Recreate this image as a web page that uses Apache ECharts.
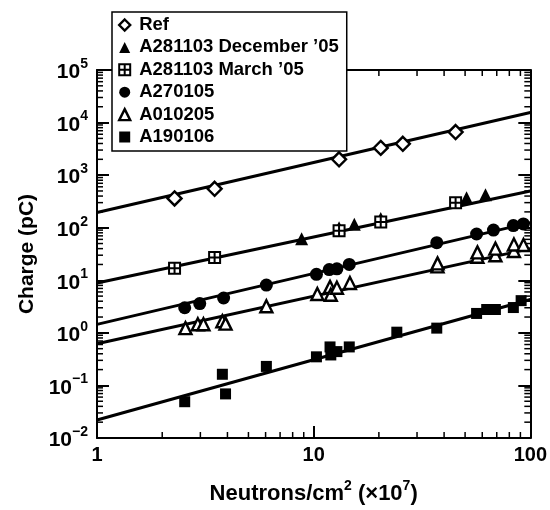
<!DOCTYPE html>
<html>
<head>
<meta charset="utf-8">
<script src="https://cdn.jsdelivr.net/npm/echarts@6/dist/echarts.min.js"></script>
<style>
  html, body { margin: 0; padding: 0; background: #fff; }
  #chart { width: 550px; height: 510px; }
</style>
</head>
<body>
<div id="chart"></div>
<script>
// fluence (x10^7 n/cm2) vs charge (pC)
const fitX = [1, 100];

const refPts = [[2.28, 360], [3.49, 550], [13.1, 2000], [20.4, 3300], [25.8, 3950], [45.2, 6600]];
const refFit = [195, 15500];

const decPts = [[8.8, 62], [13.1, 100], [15.4, 117], [20.4, 150], [50.8, 372], [62.1, 424]];
const marPts = [[2.28, 17], [3.49, 27], [13.1, 88], [20.4, 128], [45.2, 300]];
const a281Fit = [8.9, 500];

const a270Pts = [[2.54, 3.0], [2.98, 3.6], [3.84, 4.6], [6.05, 8.1], [10.3, 13], [11.8, 16], [12.8, 16.5],
  [14.6, 20], [37.0, 52], [56.5, 76], [67.6, 90], [83.5, 110], [92.9, 118]];
const a270Fit = [1.45, 125];

const a010Pts = [[2.56, 1.23], [2.92, 1.46], [3.10, 1.46], [3.79, 1.66], [3.92, 1.5], [6.05, 3.2], [10.4, 5.5],
  [11.9, 7.5], [12.0, 5.3], [12.8, 7.2], [14.7, 8.9], [37.3, 18.4], [37.3, 21], [57, 28], [57, 34],
  [69, 30], [69, 40], [84, 36], [84, 48], [93, 47]];
const a010Fit = [0.62, 40];

const a190Pts = [[2.54, 0.049], [3.79, 0.163], [3.92, 0.069], [6.05, 0.23], [10.3, 0.35], [11.9, 0.54],
  [12.0, 0.38], [12.8, 0.44], [14.6, 0.54], [24.2, 1.03], [37.0, 1.23], [56.5, 2.34], [62.9, 2.78],
  [69, 2.78], [83.5, 3.03], [90.7, 4.1]];
const a190Fit = [0.022, 4.3];

const xMin = 1, xMax = 100;
const yMin = 0.01, yMax = 1e5;

const font = 'Liberation Sans';

// minor ticks (2..9 in each decade)
const minorX = [];
for (let d = xMin; d < xMax; d *= 10) {
  for (let k = 2; k <= 9; k++) minorX.push([k * d, yMin]);
}
const minorY = [];
for (let d = yMin; d < yMax * 0.99; d *= 10) {
  for (let k = 2; k <= 9; k++) minorY.push([xMin, k * d]);
}

const chart = echarts.init(document.getElementById('chart'));

const tickLine = (x1, y1, x2, y2) => ({
  type: 'line',
  shape: { x1: x1, y1: y1, x2: x2, y2: y2 },
  style: { stroke: '#000', lineWidth: 1.5 }
});

const fitSeries = (vals) => ({
  type: 'line',
  data: fitX.map((x, i) => [x, vals[i]]),
  showSymbol: false,
  symbol: 'none',
  silent: true,
  z: 2,
  lineStyle: { color: '#000', width: 3 }
});

const openStyle = { color: '#fff', borderColor: '#000', borderWidth: 2.4, opacity: 1 };
const fillStyle = { color: '#000', opacity: 1 };
const plusStyle = { color: '#fff', borderColor: '#000', borderWidth: 2, opacity: 1 };
const plusSquare = 'path://M0,0L10,0L10,10L0,10Z M5,0L5,10 M0,5L10,5';

const baseAxis = {
  type: 'log',
  logBase: 10,
  axisLine: { lineStyle: { color: '#000', width: 2 } },
  axisTick: { inside: true, length: 12, lineStyle: { color: '#000', width: 2 } },
  splitLine: { show: false },
  minorTick: { show: false }
};

const option = {
  animation: false,
  backgroundColor: '#fff',
  textStyle: { fontFamily: font },
  grid: { left: 97, right: 18, top: 70, bottom: 65 },
  legend: {
    orient: 'vertical',
    left: 112,
    top: 12,
    padding: [3, 8, 4, 6],
    itemGap: 2.4,
    itemWidth: 11,
    itemHeight: 11,
    backgroundColor: '#fff',
    borderColor: '#000',
    borderWidth: 1.5,
    borderRadius: 0,
    z: 10,
    textStyle: {
      fontFamily: font, fontWeight: 'bold', fontSize: 18.5, color: '#000', lineHeight: 20,
      padding: [0, 0, 0, 4]
    },
    data: [
      { name: 'Ref', icon: 'diamond', itemStyle: openStyle },
      { name: 'A281103 December \u201905', icon: 'triangle', itemStyle: fillStyle },
      { name: 'A281103 March \u201905', icon: plusSquare, itemStyle: plusStyle },
      { name: 'A270105', icon: 'circle', itemStyle: fillStyle },
      { name: 'A010205', icon: 'triangle', itemStyle: openStyle },
      { name: 'A190106', icon: 'rect', itemStyle: fillStyle }
    ]
  },
  xAxis: [
    Object.assign({}, baseAxis, {
      min: xMin, max: xMax, splitNumber: 2, position: 'bottom',
      axisLabel: {
        margin: 7, color: '#000', fontFamily: font, fontWeight: 'bold', fontSize: 20,
        formatter: (v) => String(Math.round(v))
      },
      name: '{a|Neutrons/cm}{s|2}{a| (\u00d710}{s|7}{a|)}',
      nameLocation: 'middle',
      nameGap: 41,
      nameTextStyle: {
        rich: {
          a: { fontFamily: font, fontSize: 22, fontWeight: 'bold', color: '#000', lineHeight: 26, verticalAlign: 'bottom' },
          s: { fontFamily: font, fontSize: 14, fontWeight: 'bold', color: '#000', lineHeight: 14, verticalAlign: 'top' }
        }
      }
    }),
    Object.assign({}, baseAxis, {
      min: xMin, max: xMax, splitNumber: 2, position: 'top',
      axisLabel: { show: false }
    })
  ],
  yAxis: [
    Object.assign({}, baseAxis, {
      min: yMin, max: yMax, splitNumber: 7, position: 'left',
      axisLabel: {
        margin: 9,
        formatter: (v) => {
          const e = Math.round(Math.log10(v));
          return '{b|10}{s|' + (e < 0 ? '\u2212' + (-e) : e) + '}';
        },
        rich: {
          b: { fontFamily: font, fontSize: 21, fontWeight: 'bold', color: '#000', lineHeight: 26, verticalAlign: 'bottom' },
          s: { fontFamily: font, fontSize: 14, fontWeight: 'bold', color: '#000', lineHeight: 14, verticalAlign: 'top' }
        }
      },
      name: 'Charge (pC)',
      nameLocation: 'middle',
      nameGap: 57,
      nameTextStyle: { fontFamily: font, fontSize: 21, fontWeight: 'bold', color: '#000' }
    }),
    Object.assign({}, baseAxis, {
      min: yMin, max: yMax, splitNumber: 7, position: 'right',
      axisLabel: { show: false }
    })
  ],
  series: [
    fitSeries(refFit),
    fitSeries(a281Fit),
    fitSeries(a270Fit),
    fitSeries(a010Fit),
    fitSeries(a190Fit),
    {
      name: 'Ref', type: 'scatter', data: refPts, z: 4,
      symbol: 'diamond', symbolSize: 14, itemStyle: openStyle
    },
    {
      name: 'A281103 December \u201905', type: 'scatter', data: decPts, z: 4,
      symbol: 'triangle', symbolSize: 13, itemStyle: fillStyle
    },
    {
      name: 'A281103 March \u201905', type: 'scatter', data: marPts, z: 4,
      symbol: plusSquare, symbolSize: 11, itemStyle: plusStyle
    },
    {
      name: 'A270105', type: 'scatter', data: a270Pts, z: 4,
      symbol: 'circle', symbolSize: 13, itemStyle: fillStyle
    },
    {
      name: 'A010205', type: 'scatter', data: a010Pts, z: 4,
      symbol: 'triangle', symbolSize: 12, itemStyle: openStyle
    },
    {
      name: 'A190106', type: 'scatter', data: a190Pts, z: 4,
      symbol: 'rect', symbolSize: 11, itemStyle: fillStyle
    },
    {
      type: 'custom', silent: true, z: 3, data: minorX,
      encode: { x: 0, y: 1 },
      renderItem: (params, api) => {
        const b = api.coord([api.value(0), yMin]);
        const t = api.coord([api.value(0), yMax]);
        return {
          type: 'group',
          children: [tickLine(b[0], b[1], b[0], b[1] - 6), tickLine(t[0], t[1], t[0], t[1] + 6)]
        };
      }
    },
    {
      type: 'custom', silent: true, z: 3, data: minorY,
      encode: { x: 0, y: 1 },
      renderItem: (params, api) => {
        const l = api.coord([xMin, api.value(1)]);
        const r = api.coord([xMax, api.value(1)]);
        return {
          type: 'group',
          children: [tickLine(l[0], l[1], l[0] + 6, l[1]), tickLine(r[0], r[1], r[0] - 6, r[1])]
        };
      }
    }
  ]
};

chart.setOption(option);
</script>
</body>
</html>
